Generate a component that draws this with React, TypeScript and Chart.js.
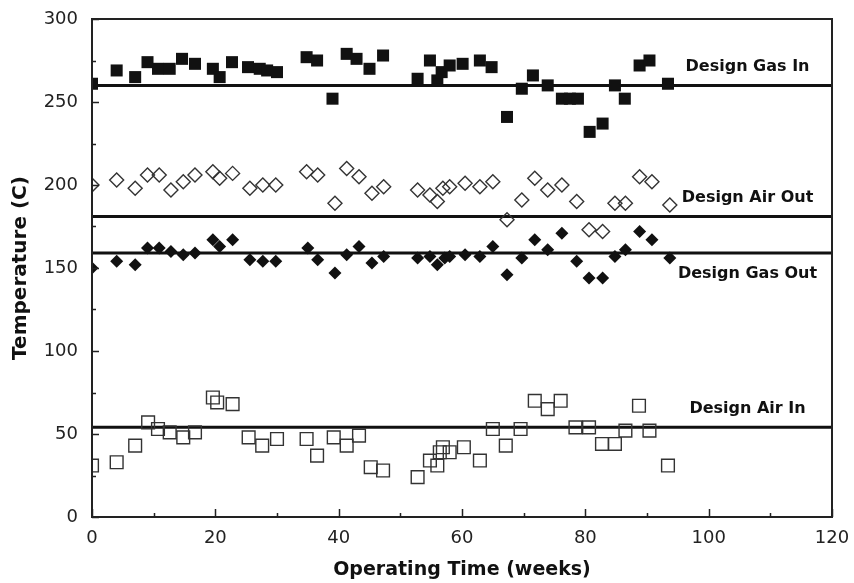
import { useEffect, useRef } from "react";
import { Chart, registerables } from "chart.js";

Chart.register(...registerables);

// ---- Data ----
const GAS_IN_WEEKS = [0, 4, 7, 9, 10.7, 12.6, 14.6, 16.7, 19.6, 20.7, 22.7, 25.3, 27.2, 28.4, 30, 34.8, 36.5, 39, 41.3, 42.9, 45, 47.2, 52.8, 54.8, 56, 56.7, 58, 60.1, 62.9, 64.8, 67.3, 69.7, 71.5, 73.9, 76.2, 77.5, 78.8, 80.7, 82.8, 84.8, 86.4, 88.8, 90.4, 93.4];
const GAS_IN_TEMP = [261, 269, 265, 274, 270, 270, 276, 273, 270, 265, 274, 271, 270, 269, 268, 277, 275, 252, 279, 276, 270, 278, 264, 275, 263, 268, 272, 273, 275, 271, 241, 258, 266, 260, 252, 252, 252, 232, 237, 260, 252, 272, 275, 261];

const AIR_OUT_WEEKS = [0, 4, 7, 9, 10.9, 12.8, 14.8, 16.7, 19.6, 20.7, 22.8, 25.6, 27.7, 29.8, 34.8, 36.6, 39.4, 41.3, 43.3, 45.4, 47.3, 52.8, 54.8, 56, 56.9, 58, 60.5, 62.9, 65, 67.3, 69.7, 71.8, 73.9, 76.2, 78.6, 80.6, 82.8, 84.8, 86.5, 88.8, 90.8, 93.7];
const AIR_OUT_TEMP = [200, 203, 198, 206, 206, 197, 202, 206, 208, 204, 207, 198, 200, 200, 208, 206, 189, 210, 205, 195, 199, 197, 194, 190, 198, 199, 201, 199, 202, 179, 191, 204, 197, 200, 190, 173, 172, 189, 189, 205, 202, 188];

const GAS_OUT_WEEKS = [0, 4, 7, 9, 10.9, 12.8, 14.8, 16.7, 19.6, 20.7, 22.8, 25.6, 27.7, 29.8, 35, 36.6, 39.4, 41.3, 43.3, 45.4, 47.3, 52.8, 54.8, 56, 57.2, 58, 60.5, 62.9, 65, 67.3, 69.7, 71.8, 73.9, 76.2, 78.6, 80.6, 82.8, 84.8, 86.5, 88.8, 90.8, 93.7];
const GAS_OUT_TEMP = [150, 154, 152, 162, 162, 160, 158, 159, 167, 163, 167, 155, 154, 154, 162, 155, 147, 158, 163, 153, 157, 156, 157, 152, 156, 157, 158, 157, 163, 146, 156, 167, 161, 171, 154, 144, 144, 157, 161, 172, 167, 156];

const AIR_IN_WEEKS = [0, 4, 7, 9.1, 10.7, 12.6, 14.8, 16.7, 19.6, 20.3, 22.8, 25.4, 27.6, 30, 34.8, 36.5, 39.2, 41.3, 43.3, 45.2, 47.2, 52.8, 54.8, 56, 56.4, 56.9, 58, 60.3, 62.9, 65, 67.1, 69.5, 71.8, 73.9, 76, 78.4, 80.6, 82.7, 84.8, 86.5, 88.7, 90.4, 93.4];
const AIR_IN_TEMP = [31, 33, 43, 57, 53, 51, 48, 51, 72, 69, 68, 48, 43, 47, 47, 37, 48, 43, 49, 30, 28, 24, 34, 31, 39, 42, 39, 42, 34, 53, 43, 53, 70, 65, 70, 54, 54, 44, 44, 52, 67, 52, 31];

const DESIGN_NAMES = ["Design Gas In", "Design Air Out", "Design Gas Out", "Design Air In"];
const DESIGN_VALUES = [260, 181, 159, 54];
const DESIGN_LABEL_SIDE = ["above", "above", "below", "above"];

const X_MIN = 0;
const X_MAX = 120;
const Y_MIN = 0;
const Y_MAX = 300;
const X_TICKS = [0, 20, 40, 60, 80, 100, 120];
const Y_TICKS = [0, 50, 100, 150, 200, 250, 300];

const toPoints = (xs: number[], ys: number[]) => xs.map((x, i) => ({ x, y: ys[i] }));

const FONT = '"DejaVu Sans", "Liberation Sans", Arial, sans-serif';

const framePlugin = {
  id: "frameAndLabels",
  afterDatasetsDraw(chart: any) {
    const { ctx, chartArea: a, scales } = chart;
    const xs = scales.x;
    const ys = scales.y;
    ctx.save();
    // frame
    ctx.strokeStyle = "#222";
    ctx.lineWidth = 2;
    ctx.strokeRect(a.left, a.top, a.right - a.left, a.bottom - a.top);
    // inward tick marks
    ctx.lineWidth = 1.5;
    ctx.beginPath();
    for (let v = Y_MIN; v <= Y_MAX; v += 25) {
      const py = Math.round(ys.getPixelForValue(v)) + 0.5;
      const len = v % 50 === 0 ? 7 : 4;
      ctx.moveTo(a.left, py);
      ctx.lineTo(a.left + len, py);
    }
    for (let v = X_MIN; v <= X_MAX; v += 10) {
      const px = Math.round(xs.getPixelForValue(v)) + 0.5;
      const len = v % 20 === 0 ? 8 : 4;
      ctx.moveTo(px, a.bottom);
      ctx.lineTo(px, a.bottom - len);
    }
    ctx.stroke();
    // design labels
    ctx.fillStyle = "#111";
    ctx.font = `bold 16px ${FONT}`;
    ctx.textAlign = "center";
    ctx.textBaseline = "middle";
    const cx = xs.getPixelForValue(106.3);
    DESIGN_NAMES.forEach((name, i) => {
      const py = ys.getPixelForValue(DESIGN_VALUES[i]);
      const off = DESIGN_LABEL_SIDE[i] === "above" ? -19 : 21;
      ctx.fillText(name, cx, py + off);
    });
    ctx.restore();
  },
};

export default function App() {
  const ref = useRef<HTMLCanvasElement | null>(null);

  useEffect(() => {
    if (!ref.current) return;
    const designSets = DESIGN_VALUES.map((v, i) => ({
      label: DESIGN_NAMES[i],
      data: [
        { x: X_MIN, y: v },
        { x: X_MAX, y: v },
      ],
      showLine: true,
      borderColor: "#111",
      borderWidth: 3,
      pointRadius: 0,
      order: 5,
    }));
    const chart = new Chart(ref.current, {
      type: "scatter",
      data: {
        datasets: [
          {
            label: "Gas In",
            data: toPoints(GAS_IN_WEEKS, GAS_IN_TEMP),
            pointStyle: "rect",
            pointRadius: 8.5,
            backgroundColor: "#111",
            borderColor: "#111",
            borderWidth: 0,
            order: 1,
          },
          {
            label: "Air Out",
            data: toPoints(AIR_OUT_WEEKS, AIR_OUT_TEMP),
            pointStyle: "rectRot",
            pointRadius: 7,
            backgroundColor: "rgba(255,255,255,0)",
            borderColor: "#333",
            borderWidth: 1.4,
            order: 1,
          },
          {
            label: "Gas Out",
            data: toPoints(GAS_OUT_WEEKS, GAS_OUT_TEMP),
            pointStyle: "rectRot",
            pointRadius: 6.5,
            backgroundColor: "#111",
            borderColor: "#111",
            borderWidth: 0,
            order: 1,
          },
          {
            label: "Air In",
            data: toPoints(AIR_IN_WEEKS, AIR_IN_TEMP),
            pointStyle: "rect",
            pointRadius: 9,
            backgroundColor: "rgba(255,255,255,0)",
            borderColor: "#333",
            borderWidth: 1.4,
            order: 1,
          },
          ...designSets,
        ] as any,
      },
      options: {
        animation: false,
        responsive: false,
        devicePixelRatio: 1,
        layout: { padding: { top: 19, right: 22, left: 0, bottom: 0 } },
        plugins: {
          legend: { display: false },
          tooltip: { enabled: false },
        },
        scales: {
          x: {
            type: "linear",
            min: X_MIN,
            max: X_MAX,
            afterFit: (s: any) => {
              s.height = 66;
              s.paddingLeft = 0;
              s.paddingRight = 0;
            },
            afterBuildTicks: (s: any) => {
              s.ticks = X_TICKS.map((v) => ({ value: v }));
            },
            grid: { display: false, drawTicks: false },
            border: { display: false },
            ticks: {
              padding: 11,
              color: "#222",
              font: { family: FONT, size: 18 },
              maxRotation: 0,
            },
            title: {
              display: true,
              text: "Operating Time (weeks)",
              color: "#111",
              font: { family: FONT, size: 19, weight: "bold" },
              padding: { top: 0, bottom: 2 },
            },
          },
          y: {
            type: "linear",
            min: Y_MIN,
            max: Y_MAX,
            afterFit: (s: any) => {
              s.width = 92;
              s.paddingTop = 0;
              s.paddingBottom = 0;
            },
            afterBuildTicks: (s: any) => {
              s.ticks = Y_TICKS.map((v) => ({ value: v }));
            },
            grid: { display: false, drawTicks: false },
            border: { display: false },
            ticks: {
              padding: 14,
              color: "#222",
              font: { family: FONT, size: 18 },
            },
            title: {
              display: true,
              text: "Temperature (C)",
              color: "#111",
              font: { family: FONT, size: 20, weight: "bold" },
              padding: { top: 9, bottom: 0 },
            },
          },
        },
      } as any,
      plugins: [framePlugin],
    });
    return () => chart.destroy();
  }, []);

  return (
    <div style={{ position: "fixed", left: 0, top: 0, width: 854, height: 583, background: "#fff" }}>
      <canvas ref={ref} width={854} height={583} style={{ width: 854, height: 583, display: "block" }} />
    </div>
  );
}
